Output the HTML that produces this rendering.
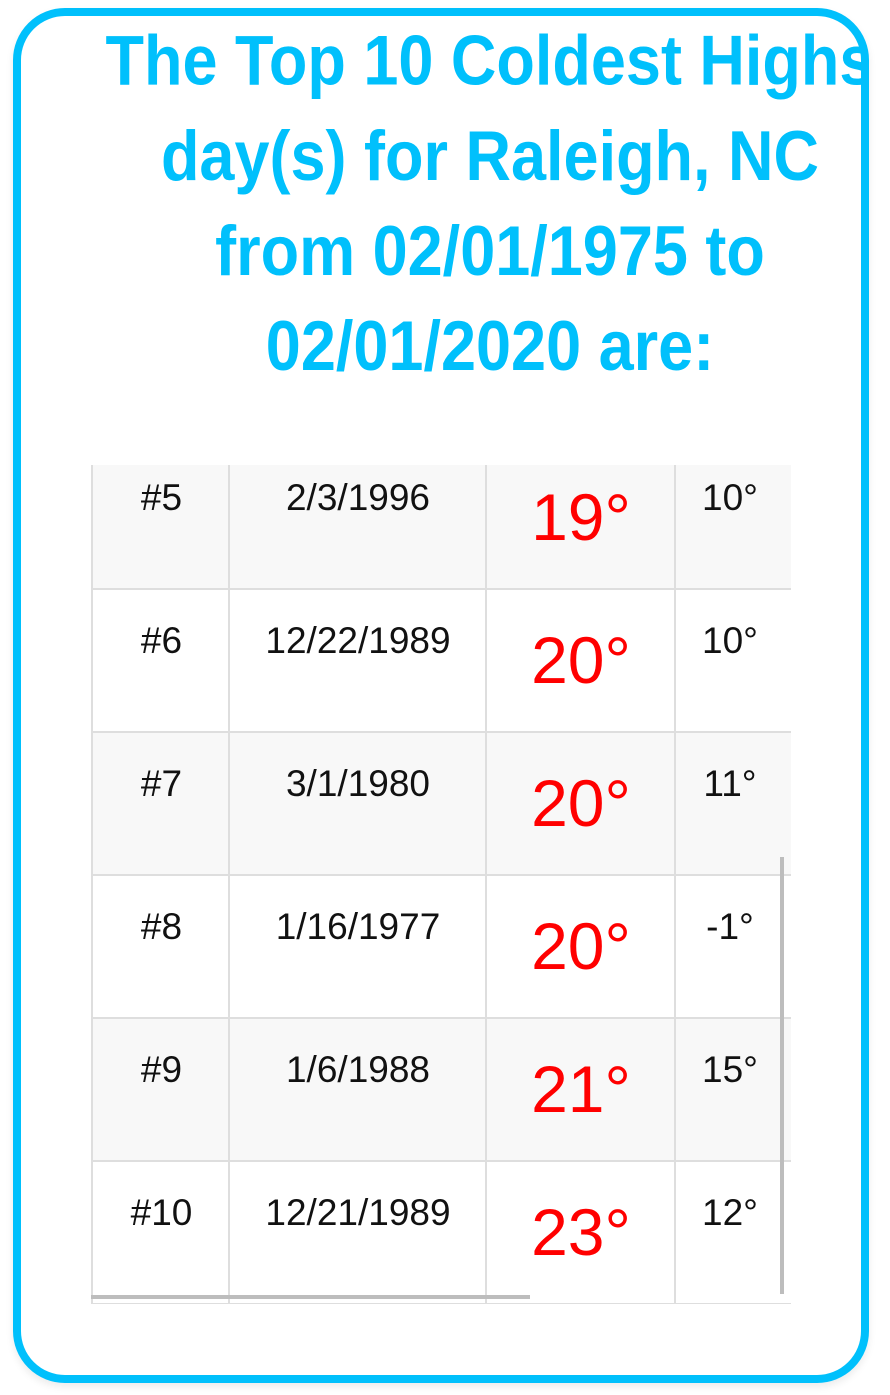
<!DOCTYPE html>
<html><head><meta charset="utf-8">
<style>
html,body{margin:0;padding:0;background:#fff;width:890px;height:1395px;overflow:hidden;font-family:"Liberation Sans",sans-serif;}
#card{position:absolute;left:13px;top:8px;width:840px;height:1359px;border:8px solid #00c0fc;border-radius:52px;box-shadow:0 4px 8px rgba(0,0,0,0.08);}
#clip{position:absolute;left:0;top:0;width:865px;height:1395px;overflow:hidden;}
#title{position:absolute;left:40px;top:14px;width:900px;text-align:center;color:#00c0fc;font-weight:bold;font-size:63px;line-height:85px;white-space:nowrap;transform:scaleY(1.12);transform-origin:0 0;}
#table{position:absolute;left:91px;top:465px;width:700px;height:839px;overflow:hidden;}
.row{position:absolute;left:0;width:700px;height:143px;border-bottom:2px solid #dedede;box-sizing:border-box;}
.cell{position:absolute;top:0;height:100%;border-left:2px solid #dedede;box-sizing:border-box;text-align:center;color:#111;font-size:37px;}
.cell span{position:absolute;left:0;right:0;top:30px;}
.red{color:#ff0000;font-size:66px;}
.red span{top:32px;}
</style></head>
<body>
<div id="card"></div>
<div id="clip">
<div id="title">The Top 10 Coldest Highs<br>day(s) for Raleigh, NC<br>from 02/01/1975 to<br>02/01/2020 are:</div>
</div>
<div id="table"></div>
<div style="position:absolute;left:780px;top:857px;width:4px;height:437px;background:#bdbdbd;"></div>
<div style="position:absolute;left:91px;top:1295px;width:439px;height:4px;background:#bdbdbd;"></div>
<script>
const ranks = ["#5","#6","#7","#8","#9","#10"];
const dates = ["2/3/1996","12/22/1989","3/1/1980","1/16/1977","1/6/1988","12/21/1989"];
const highs = [19,20,20,20,21,23];
const lows = [10,10,11,-1,15,12];
const table = document.getElementById('table');
const cols = [{l:0,w:139},{l:137,w:258},{l:394,w:190},{l:583,w:130}];
for (let i=0;i<ranks.length;i++){
  const row=document.createElement('div');
  row.className='row';
  
  
  row.style.top=(-18+i*143)+'px';
  row.style.background = (i%2===0)?'#f8f8f8':'#fff';
  const vals=[ranks[i],dates[i],highs[i]+'°',lows[i]+'°'];
  const names=['rank-cell','date-cell','high-cell','low-cell'];
  for(let c=0;c<4;c++){
    const cell=document.createElement('div');
    cell.className='cell'+(c===2?' red':'');
    
    
    cell.style.left=cols[c].l+'px';
    cell.style.width=cols[c].w+'px';
    if(c===3){cell.style.width='120px';}
    const s=document.createElement('span');
    s.textContent=vals[c];
    if(c===3){s.style.left='0';s.style.right='10px';}
    cell.appendChild(s);
    row.appendChild(cell);
  }
  table.appendChild(row);
}
</script>
</body></html>
